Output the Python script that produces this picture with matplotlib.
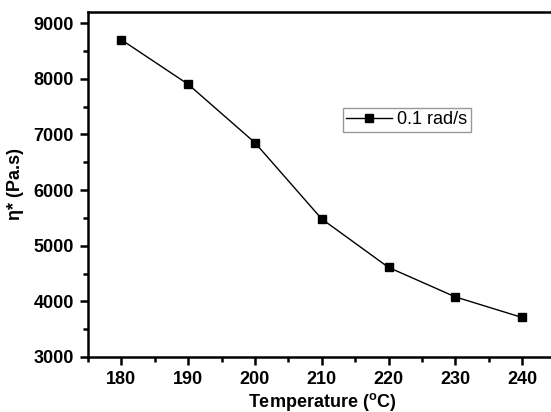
import matplotlib
matplotlib.use("Agg")
import matplotlib.pyplot as plt
from matplotlib.ticker import MultipleLocator

temperature = [180, 190, 200, 210, 220, 230, 240]
viscosity = [8700, 7900, 6850, 5480, 4610, 4080, 3710]
series_label = "0.1 rad/s"

plt.rcParams['font.family'] = ['Liberation Sans', 'DejaVu Sans']

fig = plt.figure(figsize=(5.51, 4.12), dpi=100)
ax = fig.add_axes([0.1597, 0.1335, 0.8485, 0.8375])

ax.plot(temperature, viscosity, color='black', lw=1.0, marker='s', ms=6,
        label=series_label)

ax.set_xlim(175, 245)
ax.set_ylim(3000, 9200)
ax.xaxis.set_major_locator(MultipleLocator(10))
ax.xaxis.set_minor_locator(MultipleLocator(5))
ax.yaxis.set_major_locator(MultipleLocator(1000))
ax.yaxis.set_minor_locator(MultipleLocator(500))

for s in ax.spines.values():
    s.set_linewidth(1.8)
ax.tick_params(which='major', direction='out', length=6, width=1.8, labelsize=13, pad=4)
ax.tick_params(which='minor', direction='out', length=3.5, width=1.8)
for lbl in ax.get_xticklabels() + ax.get_yticklabels():
    lbl.set_fontweight('bold')

ax.set_xlabel('Temperature ($\\mathregular{^oC}$)', fontsize=13, fontweight='bold', labelpad=2)
ax.set_ylabel('η* (Pa.s)', fontsize=13, fontweight='bold', labelpad=7)

leg = ax.legend(loc='upper left', bbox_to_anchor=(0.545, 0.722), fontsize=13,
                frameon=True, fancybox=False, edgecolor='gray', borderpad=0.2,
                handlelength=2.5, handletextpad=0.3, borderaxespad=0)
leg.get_frame().set_linewidth(1.0)

fig.savefig('out.png', dpi=100)
